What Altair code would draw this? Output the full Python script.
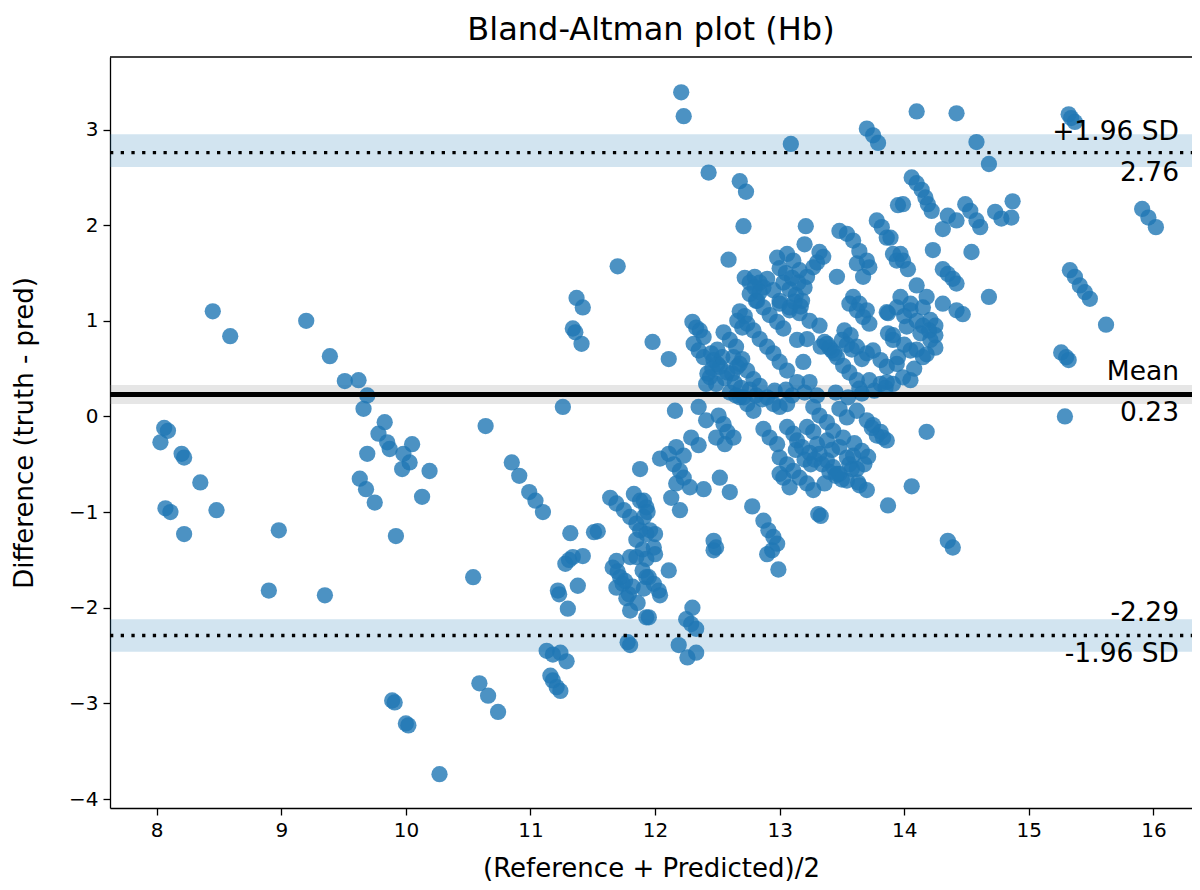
import altair as alt
import pandas as pd

# ---- data ----
X = [
    8.03, 8.06, 8.09, 8.07, 8.11, 8.20, 8.22, 8.22, 8.35, 8.45, 8.48, 8.59, 8.90, 8.98, 9.20, 9.35, 9.39,
    9.51, 9.62, 9.69, 9.66, 9.63, 9.68, 9.69, 9.75, 9.78, 9.83, 9.85, 9.87, 9.92, 9.98, 10.05, 10.03, 9.97,
    10.19, 10.13, 9.89, 9.91, 10.00, 10.02, 10.27,
    10.54, 10.59, 10.66, 10.74, 10.64, 10.85, 10.91, 10.99, 11.04, 11.10, 11.26, 11.22, 11.23, 11.30, 11.38,
    11.28, 11.34, 11.42, 11.31, 11.13, 11.18, 11.24, 11.29, 11.16, 11.18, 11.21, 11.24, 11.32, 11.51, 11.54,
    11.37, 11.42, 11.34, 11.36, 11.41, 11.70,
    11.64, 11.69, 11.75, 11.80, 11.85, 11.88, 11.83, 11.88, 11.93, 11.91, 11.93, 11.85, 11.90, 11.69, 11.80,
    11.66, 11.72, 11.74, 11.69, 11.79, 11.85, 11.90, 11.93, 11.77, 11.80, 11.93, 11.78, 11.80, 11.70, 11.76,
    11.82, 11.86, 11.93, 12.00, 12.11, 11.95, 11.99, 12.03, 12.04, 11.91, 11.95, 12.30, 12.25, 12.29, 12.33,
    12.19, 12.26, 12.33, 12.47, 12.90, 12.94, 12.99,
    11.91, 11.94, 11.96, 12.00, 11.99, 12.47, 12.49, 12.78, 12.87, 12.91, 12.95, 12.98, 13.31, 13.33, 13.87,
    13.70, 13.63,
    11.88, 11.98, 12.11, 12.30, 12.33, 12.36, 12.39, 12.31, 12.35, 12.39, 12.16, 12.35, 12.41, 12.51, 12.55,
    12.58, 12.63, 12.49, 12.56, 12.29, 12.35, 12.04, 12.11, 12.17, 12.15, 12.20, 12.23, 12.17, 12.28, 12.39,
    12.52, 12.60, 12.13, 12.20, 12.23,
    12.21, 12.23, 13.09, 13.70, 13.75, 13.79, 12.43, 12.68, 12.73, 12.71, 12.59, 13.21, 13.20, 12.98, 13.06,
    13.11, 13.16, 13.22, 13.32, 13.35, 13.30, 13.27, 12.90, 12.87, 12.76, 12.81, 12.95, 13.00, 13.08, 13.46,
    13.48, 13.54, 13.59, 13.64, 13.70, 13.72, 13.62, 13.67, 13.78, 13.82, 13.86, 13.95, 13.91, 13.94, 13.59,
    13.64, 13.70, 13.86, 13.97, 13.03, 13.08, 13.13, 13.18, 12.80, 12.84,
    12.55, 12.60, 12.65, 12.74, 12.79, 12.84, 12.90, 12.95, 13.00, 13.06, 12.82, 12.87, 12.92, 12.98, 13.03,
    12.47, 12.52, 12.58, 12.44, 12.49, 12.41, 12.63, 12.68, 12.74, 12.79, 12.84, 12.68, 12.74, 12.79, 12.90,
    12.95, 13.00, 13.06, 13.14, 13.24, 13.19, 13.14, 13.22, 13.33, 13.38, 13.42, 13.46, 13.51, 13.56, 13.62,
    13.00, 13.08, 13.16, 13.24, 13.32, 13.56, 13.62, 13.67, 13.72, 13.87, 13.87, 13.91, 13.62, 13.70, 13.75,
    13.81, 13.86, 13.72, 13.81, 13.86, 13.64,
    12.60, 12.65, 12.71, 12.76, 12.81, 12.86, 12.96, 13.05, 13.10, 13.20, 13.30, 13.45, 13.55, 13.66, 13.76,
    13.85,
    13.27, 13.32, 13.38, 13.48, 13.54, 13.62, 13.70, 13.75, 13.81, 13.86, 12.87, 12.92, 12.98, 13.06, 13.11,
    13.00, 13.06, 13.11, 13.16, 13.22, 13.27, 13.03, 13.08, 13.00, 13.32, 13.38, 13.43, 13.48, 13.54, 13.59,
    13.48, 13.54, 13.64, 13.22, 13.27, 13.30, 13.38, 13.43, 13.51, 13.78, 13.83, 13.58, 13.68, 13.13, 13.20,
    13.25,
    14.10, 14.42, 14.58, 14.68, 15.32, 15.34, 15.37, 14.06, 14.10, 14.14, 14.17, 14.19, 14.22, 13.99, 14.35,
    14.31, 14.42, 14.49, 14.53, 14.58, 14.61, 14.73, 14.78, 14.86, 14.87, 14.23, 14.54, 13.89, 13.97, 13.99,
    14.03, 14.31, 14.35, 14.39, 14.42, 14.10, 14.68, 15.91, 15.96, 16.02, 15.33, 15.37, 15.41, 15.45, 15.49,
    14.05, 14.18, 14.31, 14.42, 14.47, 15.62, 15.26, 15.32, 15.30, 15.29, 14.18, 14.06, 14.35, 14.39,
    13.94, 14.05, 14.15, 14.21, 14.02, 14.13, 14.21, 13.91, 14.05, 13.94, 13.99, 14.05, 13.91, 14.25, 14.18,
    14.25,
    # denser parts of the central clusters
    12.42, 12.46, 12.50, 12.54, 12.45, 12.50, 12.56, 12.62, 12.66, 12.70, 12.64, 12.69,
    12.72, 12.76, 12.80, 12.84, 12.68, 12.72, 12.66, 12.70,
    13.00, 13.05, 13.10, 13.15, 13.20, 13.12, 13.17,
    13.36, 13.40, 13.44, 13.50, 13.54, 13.58, 13.66, 13.52, 13.57,
    13.14, 13.18, 13.24, 13.28, 13.34, 13.40, 13.45, 13.50, 13.56, 13.62, 13.36, 13.42, 13.46, 13.60, 13.66,
    13.71, 13.74,
    14.10, 14.15, 14.20, 14.25, 14.00, 14.10, 14.15, 14.08, 13.95, 14.00,
]
Y = [
    -0.27, -0.12, -0.15, -0.96, -1.00, -0.39, -0.43, -1.23, -0.69, 1.10, -0.98, 0.84, -1.82, -1.19, 1.00, -1.87, 0.63,
    0.37, 0.38, 0.22, 0.08, -0.65, -0.76, -0.39, -0.90, -0.18, -0.06, -0.27, -0.34, -1.25, -0.39, -0.29, -0.48, -0.55,
    -0.57, -0.84, -2.97, -2.99, -3.21, -3.23, -3.74,
    -1.68, -2.79, -2.92, -3.09, -0.10, -0.48, -0.62, -0.79, -0.88, -1.00, 0.10, -1.82, -1.86, -2.01, -1.77,
    -1.54, -1.47, -1.46, -1.50, -2.45, -2.49, -2.47, -2.56, -2.71, -2.76, -2.83, -2.87, -1.22, -1.21, -1.20,
    1.24, 1.14, 0.92, 0.88, 0.76, 1.57,
    -0.85, -0.91, -0.98, -1.05, -1.12, -1.19, -0.81, -0.88, -0.95, -1.05, -1.23, -1.29, -1.39, -1.51, -1.47,
    -1.58, -1.68, -1.75, -1.79, -1.86, -1.47, -1.61, -1.68, -1.90, -2.03, -2.10, -2.36, -2.39, -1.62, -1.72,
    -1.78, -1.95, -1.49, -1.44, -1.61, -1.68, -1.75, -1.82, -1.87, -1.80, -2.10, -2.00, -2.12, -2.17, -2.22,
    -2.39, -2.52, -2.47, -1.40, -1.44, -1.40, -1.60,
    -0.88, -1.00, -1.19, -1.23, -1.37, -1.30, -1.37, -0.94, -1.09, -1.19, -1.26, -1.33, -1.02, -1.04, -0.93,
    -0.77, -0.69,
    -0.55, 0.78, 0.60, 0.99, 0.93, 0.90, 0.83, 0.76, 0.69, 0.62, 0.06, 0.10, -0.04, 0.01, -0.08,
    -0.16, -0.22, -0.22, -0.29, -0.22, -0.30, -0.44, -0.39, -0.32, -0.50, -0.57, -0.64, -0.70, -0.74, -0.76,
    -0.64, -0.79, -0.85, -0.98, -0.41,
    3.39, 3.14, 2.85, 3.01, 2.94, 2.86, 2.55, 2.46, 2.35, 1.99, 1.64, 1.99, 1.80, 1.66, 1.70,
    1.63, 1.53, 1.46, 1.72, 1.67, 1.61, 1.56, 1.44, 1.35, 1.28, 1.21, 1.32, 1.18, 1.11, 1.46,
    1.94, 1.91, 1.84, 1.73, 1.63, 1.56, 1.60, 1.46, 2.05, 1.98, 1.87, 2.21, 1.70, 1.63, 1.25,
    1.18, 1.11, 1.09, 1.25, 1.40, 1.33, 1.27, 1.21, 1.46, 1.40,
    0.88, 0.80, 0.73, 0.97, 0.90, 0.81, 0.73, 0.66, 0.57, 0.48, 1.21, 1.14, 1.06, 0.99, 0.92,
    0.59, 0.52, 0.46, 0.41, 0.34, 0.34, 0.62, 0.55, 0.48, 0.39, 0.32, 0.20, 0.13, 0.06, 0.20,
    0.13, 0.10, 0.13, 0.36, 0.36, 0.57, 0.80, 0.81, 0.73, 0.76, 0.69, 0.62, 0.53, 0.46, 0.38,
    1.21, 1.14, 1.08, 1.00, 0.95, 1.18, 1.11, 1.04, 0.97, 1.08, 0.87, 0.80, 0.73, 0.66, 0.69,
    0.59, 0.52, 0.38, 0.34, 0.36, 0.29,
    0.25, 0.22, 0.20, 0.28, 0.22, 0.18, 0.27, 0.28, 0.22, 0.25, 0.22, 0.25, 0.20, 0.24, 0.27,
    0.30,
    0.10, 0.01, -0.06, 0.08, -0.01, 0.06, -0.04, -0.09, -0.16, -0.25, -0.13, -0.22, -0.29, -0.11, -0.18,
    -0.43, -0.50, -0.57, -0.64, -0.70, -0.77, -0.64, -0.74, -0.60, -0.39, -0.46, -0.53, -0.60, -0.67, -0.41,
    -0.32, -0.43, -0.72, -0.11, -0.16, -0.29, -0.25, -0.15, -0.22, -0.20, -0.22, -0.55, -0.50, -0.35, -0.45,
    -0.50,
    3.19, 3.17, 2.87, 2.64, 3.16, 3.12, 3.08, 2.50, 2.44, 2.37, 2.29, 2.22, 2.15, 2.22, 2.10,
    1.96, 2.05, 2.22, 2.15, 2.05, 1.98, 2.14, 2.07, 2.08, 2.25, 1.74, 1.72, 1.87, 1.70, 1.63,
    1.54, 1.54, 1.49, 1.44, 1.39, 1.37, 1.25, 2.17, 2.08, 1.98, 1.53, 1.46, 1.37, 1.30, 1.23,
    1.18, 1.25, 1.18, 1.11, 1.07, 0.96, 0.67, 0.59, 0.62, 0.00, -0.16, -0.73, -1.30, -1.37,
    1.14, 1.11, 1.14, 1.01, 0.94, 0.87, 0.80, 0.85, 0.69, 0.55, 0.41, 0.38, 0.34, 0.95, 0.65,
    0.72,
    # denser parts of the central clusters
    0.45, 0.50, 0.55, 0.62, 0.66, 0.70, 0.40, 0.45, 0.52, 0.60, 0.35, 0.30,
    1.45, 1.40, 1.35, 1.30, 1.10, 1.05, 1.00, 0.93,
    1.55, 1.50, 1.45, 1.40, 1.35, 1.20, 1.15,
    0.78, 0.72, 0.66, 0.80, 0.75, 0.70, 0.60, 0.90, 0.85,
    -0.25, -0.32, -0.38, -0.45, -0.50, -0.58, -0.62, -0.66, -0.50, -0.55, -0.70, -0.35, -0.60, -0.28, -0.36,
    -0.42, -0.12,
    1.00, 0.95, 0.90, 0.85, 0.75, 0.70, 0.62, 0.50, 0.62, 1.05,
]

MEAN = 0.23
UPPER = 2.76
LOWER = -2.29
UPPER_BAND = [2.61, 2.95]
MEAN_BAND = [0.13, 0.33]
LOWER_BAND = [-2.46, -2.12]
X_TICKS = [8, 9, 10, 11, 12, 13, 14, 15, 16]
Y_TICKS = [-4, -3, -2, -1, 0, 1, 2, 3]
X_DOMAIN = [7.625, 16.31]
Y_DOMAIN = [-4.094, 3.759]
LABELS = [
    (UPPER, "+1.96 SD", -13), (UPPER, f"{UPPER:.2f}", 28),
    (MEAN, "Mean", -14), (MEAN, f"{MEAN:.2f}", 27),
    (LOWER, f"{LOWER:.2f}", -14), (LOWER, "-1.96 SD", 27),
]

W, H = 1082, 751
FONT = "DejaVu Sans"
BLUE = "#1f77b4"

xs = alt.Scale(domain=X_DOMAIN, nice=False, zero=False)
ys = alt.Scale(domain=Y_DOMAIN, nice=False, zero=False)
minus = "replace(datum.label, '-', '\u2212')"
ax_x = alt.Axis(values=X_TICKS, title="(Reference + Predicted)/2", labelExpr=minus,
                labelPadding=5, titlePadding=15)
ax_y = alt.Axis(values=Y_TICKS, title="Difference (truth - pred)", labelExpr=minus,
                labelPadding=5, titlePadding=31)


def band(lo, hi, color):
    df = pd.DataFrame({"lo": [lo], "hi": [hi]})
    return alt.Chart(df).mark_rect(color=color, opacity=0.2).encode(
        x=alt.value(0), x2=alt.value(W),
        y=alt.Y("lo:Q", scale=ys, axis=ax_y), y2="hi:Q")


def hline(v, width, dash=None):
    kw = dict(color="black", strokeWidth=width, strokeCap="butt")
    if dash:
        kw["strokeDash"] = dash
    return alt.Chart(pd.DataFrame({"v": [v]})).mark_rule(**kw).encode(
        x=alt.value(0), x2=alt.value(W),
        y=alt.Y("v:Q", scale=ys, axis=ax_y))


pts = alt.Chart(pd.DataFrame({"x": X, "y": Y})).mark_circle(
    color=BLUE, opacity=0.8, size=265, strokeWidth=0, clip=True
).encode(x=alt.X("x:Q", scale=xs, axis=ax_x), y=alt.Y("y:Q", scale=ys, axis=ax_y))

texts = []
for v, t, dy in LABELS:
    texts.append(
        alt.Chart(pd.DataFrame({"v": [v], "t": [t]})).mark_text(
            font=FONT, fontSize=26.5, color="black", align="right",
            baseline="alphabetic", dy=dy
        ).encode(x=alt.value(1069), y=alt.Y("v:Q", scale=ys, axis=ax_y), text="t:N")
    )

top_border = alt.Chart(pd.DataFrame({"a": [0]})).mark_rule(color="black", strokeWidth=1.3).encode(
    x=alt.value(0), x2=alt.value(W), y=alt.value(0))

chart = alt.layer(
    band(UPPER_BAND[0], UPPER_BAND[1], BLUE),
    band(MEAN_BAND[0], MEAN_BAND[1], "gray"),
    band(LOWER_BAND[0], LOWER_BAND[1], BLUE),
    pts,
    hline(UPPER, 3.3, [3.3, 7.4]),
    hline(LOWER, 3.3, [3.3, 7.4]),
    hline(MEAN, 5),
    *texts,
    top_border,
).properties(
    width=W, height=H,
    title=alt.TitleParams("Bland-Altman plot (Hb)", font=FONT, fontSize=32, fontWeight="normal",
                          color="black", anchor="middle", offset=9),
    padding={"left": 102, "top": 49, "right": 0, "bottom": 75},
    autosize=alt.AutoSizeParams(type="none"),
).configure_view(stroke=None).configure_axis(
    grid=False, domainColor="black", domainWidth=1.3, tickColor="black", tickWidth=1.3, tickSize=7,
    labelFont=FONT, labelFontSize=20, labelColor="black",
    titleFont=FONT, titleFontSize=26, titleColor="black", titleFontWeight="normal",
)

chart.save("out.html", embed_options={"renderer": "svg", "actions": False})
